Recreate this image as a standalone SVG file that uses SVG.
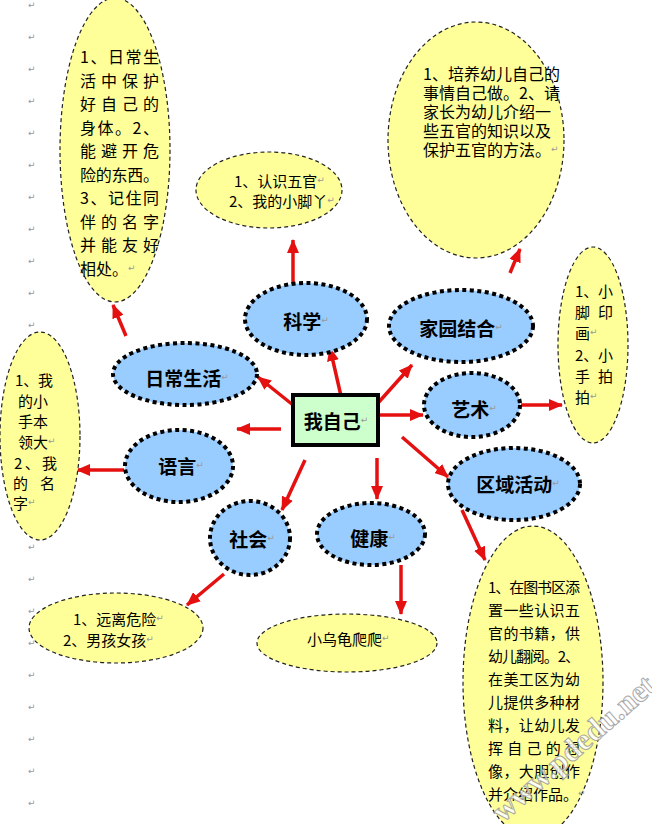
<svg xmlns="http://www.w3.org/2000/svg" width="652" height="824" viewBox="0 0 652 824">
<style>
.y{fill:#ffff99;stroke:#222;stroke-width:1.2;stroke-dasharray:4 3}
.b{fill:#99ccff;stroke:#000;stroke-width:4;stroke-dasharray:4 3.5}
.t{font-family:"Noto Sans CJK SC",sans-serif;font-size:15px;fill:#000;dominant-baseline:central}
.m{font-size:16px}
.bt{font-family:"Noto Sans CJK SC",sans-serif;font-size:19px;font-weight:bold;fill:#000;dominant-baseline:central;text-anchor:middle}
.pm{font-family:"DejaVu Sans",sans-serif;font-size:9px;font-weight:normal;fill:#999}
.a{stroke:#e51010;stroke-width:3.5;fill:none;marker-end:url(#ah)}
.wm{font-family:"Liberation Serif",serif;font-weight:bold;font-size:31px;fill:#fff;stroke:#9a9a9a;stroke-width:1;opacity:0.85}
</style>
<defs>
<marker id="ah" markerUnits="userSpaceOnUse" markerWidth="14" markerHeight="12" viewBox="0 0 14 12" refX="13" refY="6" orient="auto">
<path d="M0,0 L14,6 L0,12 z" fill="#e51010"/>
</marker>
</defs>
<g id="margin" class="pm">
<text x="28" y="8">↵</text><text x="28" y="40">↵</text><text x="28" y="72">↵</text><text x="28" y="104">↵</text><text x="28" y="136">↵</text><text x="28" y="168">↵</text><text x="28" y="200">↵</text><text x="28" y="232">↵</text><text x="28" y="264">↵</text><text x="28" y="296">↵</text><text x="28" y="328">↵</text>
<text x="28" y="550">↵</text><text x="28" y="582">↵</text><text x="28" y="614">↵</text><text x="28" y="646">↵</text><text x="28" y="678">↵</text><text x="28" y="710">↵</text><text x="28" y="742">↵</text><text x="28" y="774">↵</text><text x="28" y="806">↵</text>
</g>
<g id="connectors">
<line class="a" x1="341" y1="396" x2="330" y2="348"/>
<line class="a" x1="293" y1="405" x2="258" y2="377"/>
<line class="a" x1="378" y1="403" x2="412" y2="365"/>
<line class="a" x1="378" y1="415" x2="423" y2="415"/>
<line class="a" x1="281" y1="429" x2="237" y2="429"/>
<line class="a" x1="402" y1="437" x2="448" y2="477"/>
<line class="a" x1="377" y1="458" x2="377" y2="499"/>
<line class="a" x1="305" y1="460" x2="282" y2="510"/>
<line class="a" x1="126" y1="336" x2="113" y2="305"/>
<line class="a" x1="293" y1="284" x2="293" y2="240"/>
<line class="a" x1="510" y1="273" x2="520" y2="249"/>
<line class="a" x1="521" y1="405" x2="562" y2="405"/>
<line class="a" x1="124" y1="470" x2="77" y2="470"/>
<line class="a" x1="224" y1="574" x2="187" y2="605"/>
<line class="a" x1="401" y1="565" x2="401" y2="614"/>
<line class="a" x1="462" y1="510" x2="485" y2="560"/>
</g>
<g id="daily-detail">
<ellipse class="y" cx="115" cy="150" rx="55" ry="152"/>
<text class="t m" x="80" y="56" textLength="79" lengthAdjust="spacing">1、日常生</text>
<text class="t m" x="80" y="79.5" textLength="79" lengthAdjust="spacing">活中保护</text>
<text class="t m" x="80" y="103" textLength="79" lengthAdjust="spacing">好自己的</text>
<text class="t m" x="80" y="126.5" textLength="79" lengthAdjust="spacing">身体。2、</text>
<text class="t m" x="80" y="150" textLength="79" lengthAdjust="spacing">能避开危</text>
<text class="t m" x="80" y="173.5" textLength="79" lengthAdjust="spacing">险的东西。</text>
<text class="t m" x="80" y="197" textLength="79" lengthAdjust="spacing">3、记住同</text>
<text class="t m" x="80" y="220.5" textLength="79" lengthAdjust="spacing">伴的名字</text>
<text class="t m" x="80" y="244" textLength="79" lengthAdjust="spacing">并能友好</text>
<text class="t m" x="80" y="267.5">相处。<tspan class="pm">↵</tspan></text>
</g>
<g id="home-detail">
<ellipse class="y" cx="476" cy="140" rx="88" ry="118"/>
<text class="t m" x="423" y="73">1、培养幼儿自己的</text>
<text class="t m" x="423" y="92">事情自己做。2、请</text>
<text class="t m" x="423" y="111">家长为幼儿介绍一</text>
<text class="t m" x="423" y="130">些五官的知识以及</text>
<text class="t m" x="423" y="149">保护五官的方法。<tspan class="pm">↵</tspan></text>
</g>
<g id="science-detail">
<ellipse class="y" cx="269" cy="190" rx="73" ry="38"/>
<text class="t" x="234" y="180">1、认识五官<tspan class="pm">↵</tspan></text>
<text class="t" x="229" y="200">2、我的小脚丫<tspan class="pm">↵</tspan></text>
</g>
<g id="art-detail">
<ellipse class="y" cx="593" cy="345" rx="35" ry="98"/>
<text class="t" x="575" y="290" textLength="38" lengthAdjust="spacing">1、小</text>
<text class="t" x="575" y="311" textLength="38" lengthAdjust="spacing">脚印</text>
<text class="t" x="575" y="332">画<tspan class="pm">↵</tspan></text>
<text class="t" x="575" y="354" textLength="38" lengthAdjust="spacing">2、小</text>
<text class="t" x="575" y="375" textLength="38" lengthAdjust="spacing">手拍</text>
<text class="t" x="575" y="396">拍<tspan class="pm">↵</tspan></text>
</g>
<g id="language-detail">
<ellipse class="y" cx="40" cy="436" rx="40" ry="104"/>
<text class="t" x="15" y="379" textLength="38" lengthAdjust="spacing">1、我</text>
<text class="t" x="18" y="400">的小</text>
<text class="t" x="18" y="420">手本</text>
<text class="t" x="18" y="441">领大<tspan class="pm">↵</tspan></text>
<text class="t" x="14" y="462" textLength="43" lengthAdjust="spacing">2、我</text>
<text class="t" x="13" y="482" textLength="42" lengthAdjust="spacing">的 名</text>
<text class="t" x="13" y="502">字<tspan class="pm">↵</tspan></text>
</g>
<g id="social-detail">
<ellipse class="y" cx="116" cy="628" rx="87" ry="35"/>
<text class="t" x="73" y="618">1、远离危险<tspan class="pm">↵</tspan></text>
<text class="t" x="63" y="639">2、男孩女孩<tspan class="pm">↵</tspan></text>
</g>
<g id="health-detail">
<ellipse class="y" cx="347" cy="643" rx="90" ry="29"/>
<text class="t" x="307" y="638">小乌龟爬爬<tspan class="pm">↵</tspan></text>
</g>
<g id="area-detail">
<ellipse class="y" cx="533" cy="682" rx="70" ry="156"/>
<text class="t" x="488" y="586" textLength="92" lengthAdjust="spacing">1、在图书区添</text>
<text class="t" x="488" y="609" textLength="92" lengthAdjust="spacing">置一些认识五</text>
<text class="t" x="488" y="632" textLength="92" lengthAdjust="spacing">官的书籍，供</text>
<text class="t" x="488" y="655" textLength="92" lengthAdjust="spacing">幼儿翻阅。2、</text>
<text class="t" x="488" y="678" textLength="92" lengthAdjust="spacing">在美工区为幼</text>
<text class="t" x="488" y="701" textLength="92" lengthAdjust="spacing">儿提供多种材</text>
<text class="t" x="488" y="724" textLength="92" lengthAdjust="spacing">料，让幼儿发</text>
<text class="t" x="488" y="747" textLength="92" lengthAdjust="spacing">挥自己的想</text>
<text class="t" x="488" y="770" textLength="92" lengthAdjust="spacing">像，大胆创作</text>
<text class="t" x="488" y="793">并介绍作品。<tspan class="pm">↵</tspan></text>
</g>
<g id="science"><ellipse class="b" cx="306" cy="319" rx="61" ry="36"/><text class="bt" x="306" y="320">科学<tspan class="pm">↵</tspan></text></g>
<g id="home"><ellipse class="b" cx="461" cy="326" rx="72" ry="36"/><text class="bt" x="461" y="327">家园结合<tspan class="pm">↵</tspan></text></g>
<g id="daily"><ellipse class="b" cx="185" cy="374" rx="72" ry="31"/><text class="bt" x="187" y="377">日常生活<tspan class="pm">↵</tspan></text></g>
<g id="art"><ellipse class="b" cx="472" cy="405" rx="48" ry="32"/><text class="bt" x="474" y="408">艺术<tspan class="pm">↵</tspan></text></g>
<g id="language"><ellipse class="b" cx="179" cy="466" rx="54" ry="36"/><text class="bt" x="181" y="465">语言<tspan class="pm">↵</tspan></text></g>
<g id="area"><ellipse class="b" cx="514" cy="484" rx="66" ry="36"/><text class="bt" x="518" y="483">区域活动<tspan class="pm">↵</tspan></text></g>
<g id="social"><ellipse class="b" cx="250" cy="538" rx="40" ry="37"/><text class="bt" x="252" y="538">社会<tspan class="pm">↵</tspan></text></g>
<g id="health"><ellipse class="b" cx="371" cy="534" rx="54" ry="31"/><text class="bt" x="373" y="537">健康<tspan class="pm">↵</tspan></text></g>
<g id="me"><rect x="293" y="395" width="85" height="50" fill="#ccffcc" stroke="#000" stroke-width="4"/><text class="bt" x="336" y="420">我自己<tspan class="pm">↵</tspan></text></g>
<g id="watermark"><text class="wm" x="580" y="756" text-anchor="middle" transform="rotate(-41 580 756)">www.pdedu.net</text></g>
</svg>
